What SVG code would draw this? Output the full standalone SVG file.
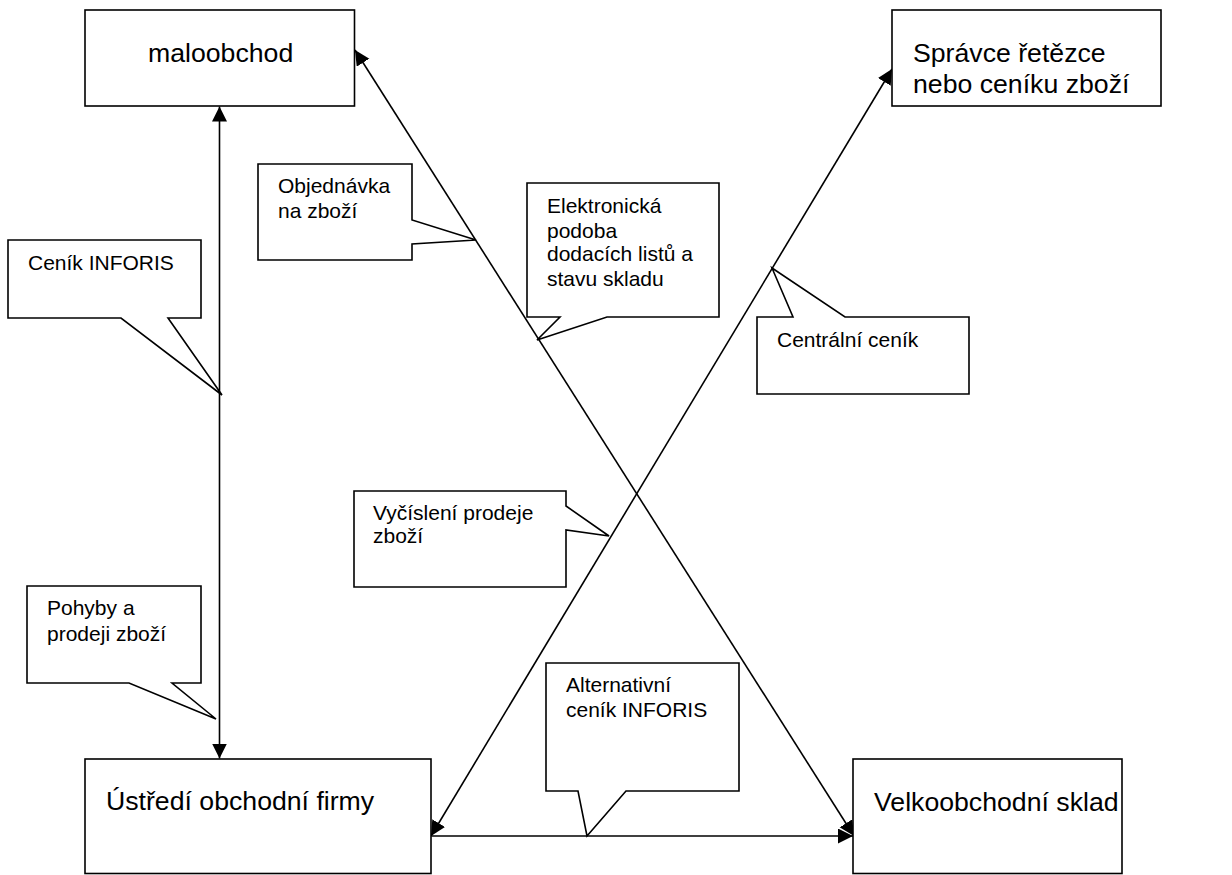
<svg xmlns="http://www.w3.org/2000/svg" width="1232" height="875" viewBox="0 0 1232 875">
<style>
.box{fill:#fff;stroke:#000;stroke-width:1.6}
.line{fill:none;stroke:#000;stroke-width:1.6}
text{font-family:"Liberation Sans",Arial,sans-serif;fill:#000}
.big{font-size:26.67px}
.small{font-size:21px}
</style>
<defs>
<marker id="arrow" markerUnits="userSpaceOnUse" markerWidth="16" markerHeight="16" refX="15" refY="7.5" orient="auto-start-reverse"><path d="M0 0L15 7.5L0 15Z" fill="#000"/></marker>
</defs>
<rect width="1232" height="875" fill="#fff"/>
<g id="connectors">
<line class="line" x1="219.5" y1="106.500" x2="219.5" y2="758.5" marker-start="url(#arrow)" marker-end="url(#arrow)"/>
<line class="line" x1="355" y1="50" x2="854" y2="836" marker-start="url(#arrow)" marker-end="url(#arrow)"/>
<line class="line" x1="892" y1="69" x2="431" y2="836" marker-start="url(#arrow)" marker-end="url(#arrow)"/>
<line class="line" x1="431.5" y1="836" x2="853" y2="836" marker-end="url(#arrow)"/>
</g>
<g id="node-maloobchod"><rect class="box" x="85" y="10" width="269.5" height="96"/><text class="big" x="148" y="62">maloobchod</text></g>
<g id="node-spravce"><rect class="box" x="892" y="10" width="269" height="96"/><text class="big" x="913" y="62">Správce řetězce</text><text class="big" x="913" y="93">nebo ceníku zboží</text></g>
<g id="node-ustredi"><rect class="box" x="85" y="759" width="346" height="114.5"/><text class="big" x="106" y="810">Ústředí obchodní firmy</text></g>
<g id="node-velkoobchod"><rect class="box" x="853" y="759" width="269" height="114.5"/><text class="big" x="874" y="811">Velkoobchodní sklad</text></g>
<g id="callout-cenik"><path class="box" d="M8 240H201V318H168L222 395L121 318H8Z"/><text class="small" x="28" y="270">Ceník INFORIS</text></g>
<g id="callout-objednavka"><path class="box" d="M258 164H412V220L476 240L412 244V260H258Z"/><text class="small" x="278" y="193">Objednávka</text><text class="small" x="278" y="218">na zboží</text></g>
<g id="callout-elektronicka"><path class="box" d="M527 183H719V317H607L537 340L560 317H527Z"/><text class="small" x="547" y="213">Elektronická</text><text class="small" x="547" y="238">podoba</text><text class="small" x="547" y="261">dodacích listů a</text><text class="small" x="547" y="286">stavu skladu</text></g>
<g id="callout-centralni"><path class="box" d="M757 317H793L772 268L845 317H969V394H757Z"/><text class="small" x="777" y="347">Centrální ceník</text></g>
<g id="callout-vycisleni"><path class="box" d="M354 491H566V506L609 536L566 530V587H354Z"/><text class="small" x="373" y="520">Vyčíslení prodeje</text><text class="small" x="373" y="543">zboží</text></g>
<g id="callout-pohyby"><path class="box" d="M27 586H201V683H172L216 719L129 683H27Z"/><text class="small" x="47" y="615">Pohyby a</text><text class="small" x="47" y="641">prodeji zboží</text></g>
<g id="callout-alternativni"><path class="box" d="M546 663H739V791H626L587 836L578 791H546Z"/><text class="small" x="566" y="692">Alternativní</text><text class="small" x="566" y="717">ceník INFORIS</text></g>
</svg>
